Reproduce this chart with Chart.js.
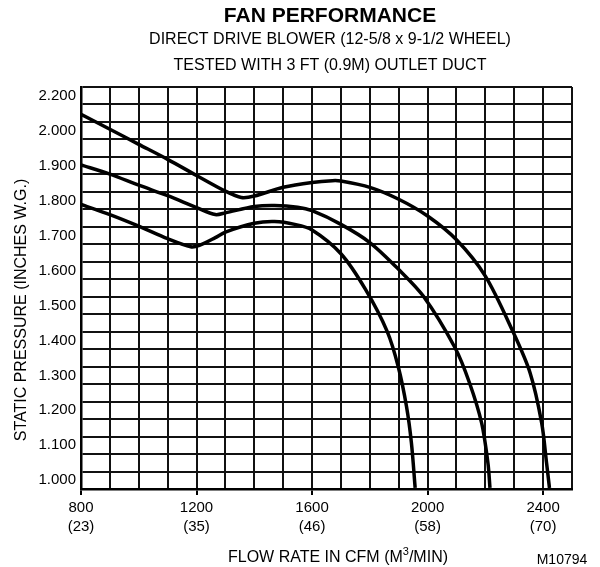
<!DOCTYPE html>
<html>
<head>
<meta charset="utf-8">
<script src="https://cdn.jsdelivr.net/npm/chart.js@4/dist/chart.umd.min.js"></script>
<style>
  html, body { margin: 0; padding: 0; background: #fff; }
  #wrap { width: 600px; height: 567px; }
</style>
</head>
<body>
<div id="wrap"><canvas id="fan" width="600" height="567"></canvas></div>
<script>
// fan performance curves — static pressure vs flow, three blower speeds

// x axis: CFM, labelled every 400 with m3/min in brackets
const xTickCfm    = [800, 1200, 1600, 2000, 2400];
const xTickMetric = ['(23)', '(35)', '(46)', '(58)', '(70)'];
// y axis labels as printed (the sheet skips 2.100 and prints 2.200)
const yTickVals   = [1.0, 1.1, 1.2, 1.3, 1.4, 1.5, 1.6, 1.7, 1.8, 1.9, 2.0, 2.1];
const yTickLabels = ['1.000', '1.100', '1.200', '1.300', '1.400', '1.500',
                     '1.600', '1.700', '1.800', '1.900', '2.000', '2.200'];

// high speed
const cfmHigh = [800, 900, 1000, 1100, 1200, 1300, 1355, 1400, 1500, 1600, 1670, 1700,
                 1800, 1900, 2000, 2100, 2200, 2295, 2355, 2395, 2412, 2422];
const spHigh  = [2.047, 2.004, 1.961, 1.918, 1.872, 1.827, 1.809, 1.813, 1.838, 1.852, 1.857, 1.856,
                 1.838, 1.804, 1.756, 1.688, 1.584, 1.426, 1.307, 1.164, 1.049, 0.978];
// medium speed
const cfmMed  = [800, 900, 1000, 1100, 1200, 1265, 1300, 1400, 1470, 1550, 1600,
                 1700, 1800, 1900, 1985, 2095, 2145, 2187, 2209, 2216];
const spMed   = [1.902, 1.876, 1.844, 1.814, 1.780, 1.760, 1.765, 1.783, 1.786, 1.781, 1.771,
                 1.732, 1.680, 1.603, 1.527, 1.379, 1.279, 1.164, 1.049, 0.978];
// low speed
const cfmLow  = [800, 900, 1000, 1100, 1180, 1210, 1265, 1300, 1400, 1470, 1540, 1600,
                 1700, 1785, 1860, 1898, 1927, 1944, 1957];
const spLow   = [1.789, 1.760, 1.727, 1.691, 1.668, 1.672, 1.694, 1.710, 1.735, 1.740, 1.732, 1.716,
                 1.648, 1.546, 1.426, 1.326, 1.211, 1.107, 0.978];

const FONT = '"Liberation Sans", Arial, Helvetica, sans-serif';
const INK  = '#000';

const curve = (xs, ys) => ({
  data: xs.map((x, i) => ({ x, y: ys[i] })),
  borderColor: INK,
  borderWidth: 3.5,
  pointRadius: 0,
  tension: 0.3,
  fill: false,
});

// headings, axis titles and the drawing number — placed by hand like the printed sheet
const sheetText = {
  id: 'sheetText',
  afterDraw(chart) {
    const { ctx } = chart;
    ctx.save();
    ctx.fillStyle = INK;
    ctx.textAlign = 'center';
    ctx.textBaseline = 'middle';
    ctx.font = `bold 21px ${FONT}`;
    ctx.fillText('FAN PERFORMANCE', 330, 16);
    ctx.font = `16px ${FONT}`;
    ctx.fillText('DIRECT DRIVE BLOWER (12-5/8 x 9-1/2 WHEEL)', 330, 40);
    ctx.fillText('TESTED WITH 3 FT (0.9M) OUTLET DUCT', 330, 66);

    // x title with superscript 3
    const a = 'FLOW RATE IN CFM (M', b = '3', c = '/MIN)';
    ctx.font = `16px ${FONT}`;
    const wa = ctx.measureText(a).width, wc = ctx.measureText(c).width;
    ctx.font = `11px ${FONT}`;
    const wb = ctx.measureText(b).width;
    const x = 338 - (wa + wb + wc) / 2;
    ctx.textAlign = 'left';
    ctx.font = `16px ${FONT}`;
    ctx.fillText(a, x, 558);
    ctx.font = `11px ${FONT}`;
    ctx.fillText(b, x + wa, 552);
    ctx.font = `16px ${FONT}`;
    ctx.fillText(c, x + wa + wb, 558);

    ctx.textAlign = 'center';
    ctx.font = `14px ${FONT}`;
    ctx.fillText('M10794', 562, 560);

    // y title, rotated
    ctx.translate(22, 310);
    ctx.rotate(-Math.PI / 2);
    ctx.font = `16px ${FONT}`;
    ctx.fillText('STATIC PRESSURE (INCHES W.G.)', 0, 0);
    ctx.restore();
  }
};

new Chart(document.getElementById('fan'), {
  type: 'line',
  data: { datasets: [curve(cfmHigh, spHigh), curve(cfmMed, spMed), curve(cfmLow, spLow)] },
  options: {
    responsive: false,
    animation: false,
    layout: { padding: { top: 87, right: 28, left: 0, bottom: 0 } },
    plugins: { legend: { display: false }, tooltip: { enabled: false } },
    scales: {
      x: {
        type: 'linear',
        min: 800, max: 2500,
        // grid every 100 cfm
        afterBuildTicks: s => {
          const t = [];
          for (let v = 800; v <= 2500; v += 100) t.push({ value: v });
          s.ticks = t;
        },
        afterFit: s => { s.height = 78; },
        ticks: {
          autoSkip: false, maxRotation: 0, padding: 3,
          color: INK,
          font: { family: FONT, size: 15, lineHeight: 1.27 },
          callback: v => {
            const i = xTickCfm.indexOf(v);
            return i < 0 ? '' : [String(v), xTickMetric[i]];
          },
        },
        grid: {
          color: '#111', lineWidth: 2, tickLength: 6,
          tickColor: c => (c.tick && xTickCfm.includes(c.tick.value)) ? INK : 'rgba(0,0,0,0)',
        },
        border: { color: INK, width: 2.5 },
      },
      y: {
        type: 'linear',
        min: 0.975, max: 2.125,
        // alternate grid lines (every 0.05) and label positions (between them)
        afterBuildTicks: s => {
          const t = [];
          for (let i = 0; i <= 46; i++) t.push({ value: +(0.975 + i * 0.025).toFixed(3) });
          s.ticks = t;
        },
        afterFit: s => { s.width = 81; },
        ticks: {
          autoSkip: false, padding: 5,
          color: INK,
          font: { family: FONT, size: 15 },
          callback: v => {
            const i = yTickVals.findIndex(t => Math.abs(t - v) < 1e-6);
            return i < 0 ? '' : yTickLabels[i];
          },
        },
        grid: {
          drawTicks: false, lineWidth: 2,
          color: c => (c.index % 2 === 0) ? '#111' : 'rgba(0,0,0,0)',
        },
        border: { color: INK, width: 2.5 },
      },
    },
  },
  plugins: [sheetText],
});
</script>
</body>
</html>
